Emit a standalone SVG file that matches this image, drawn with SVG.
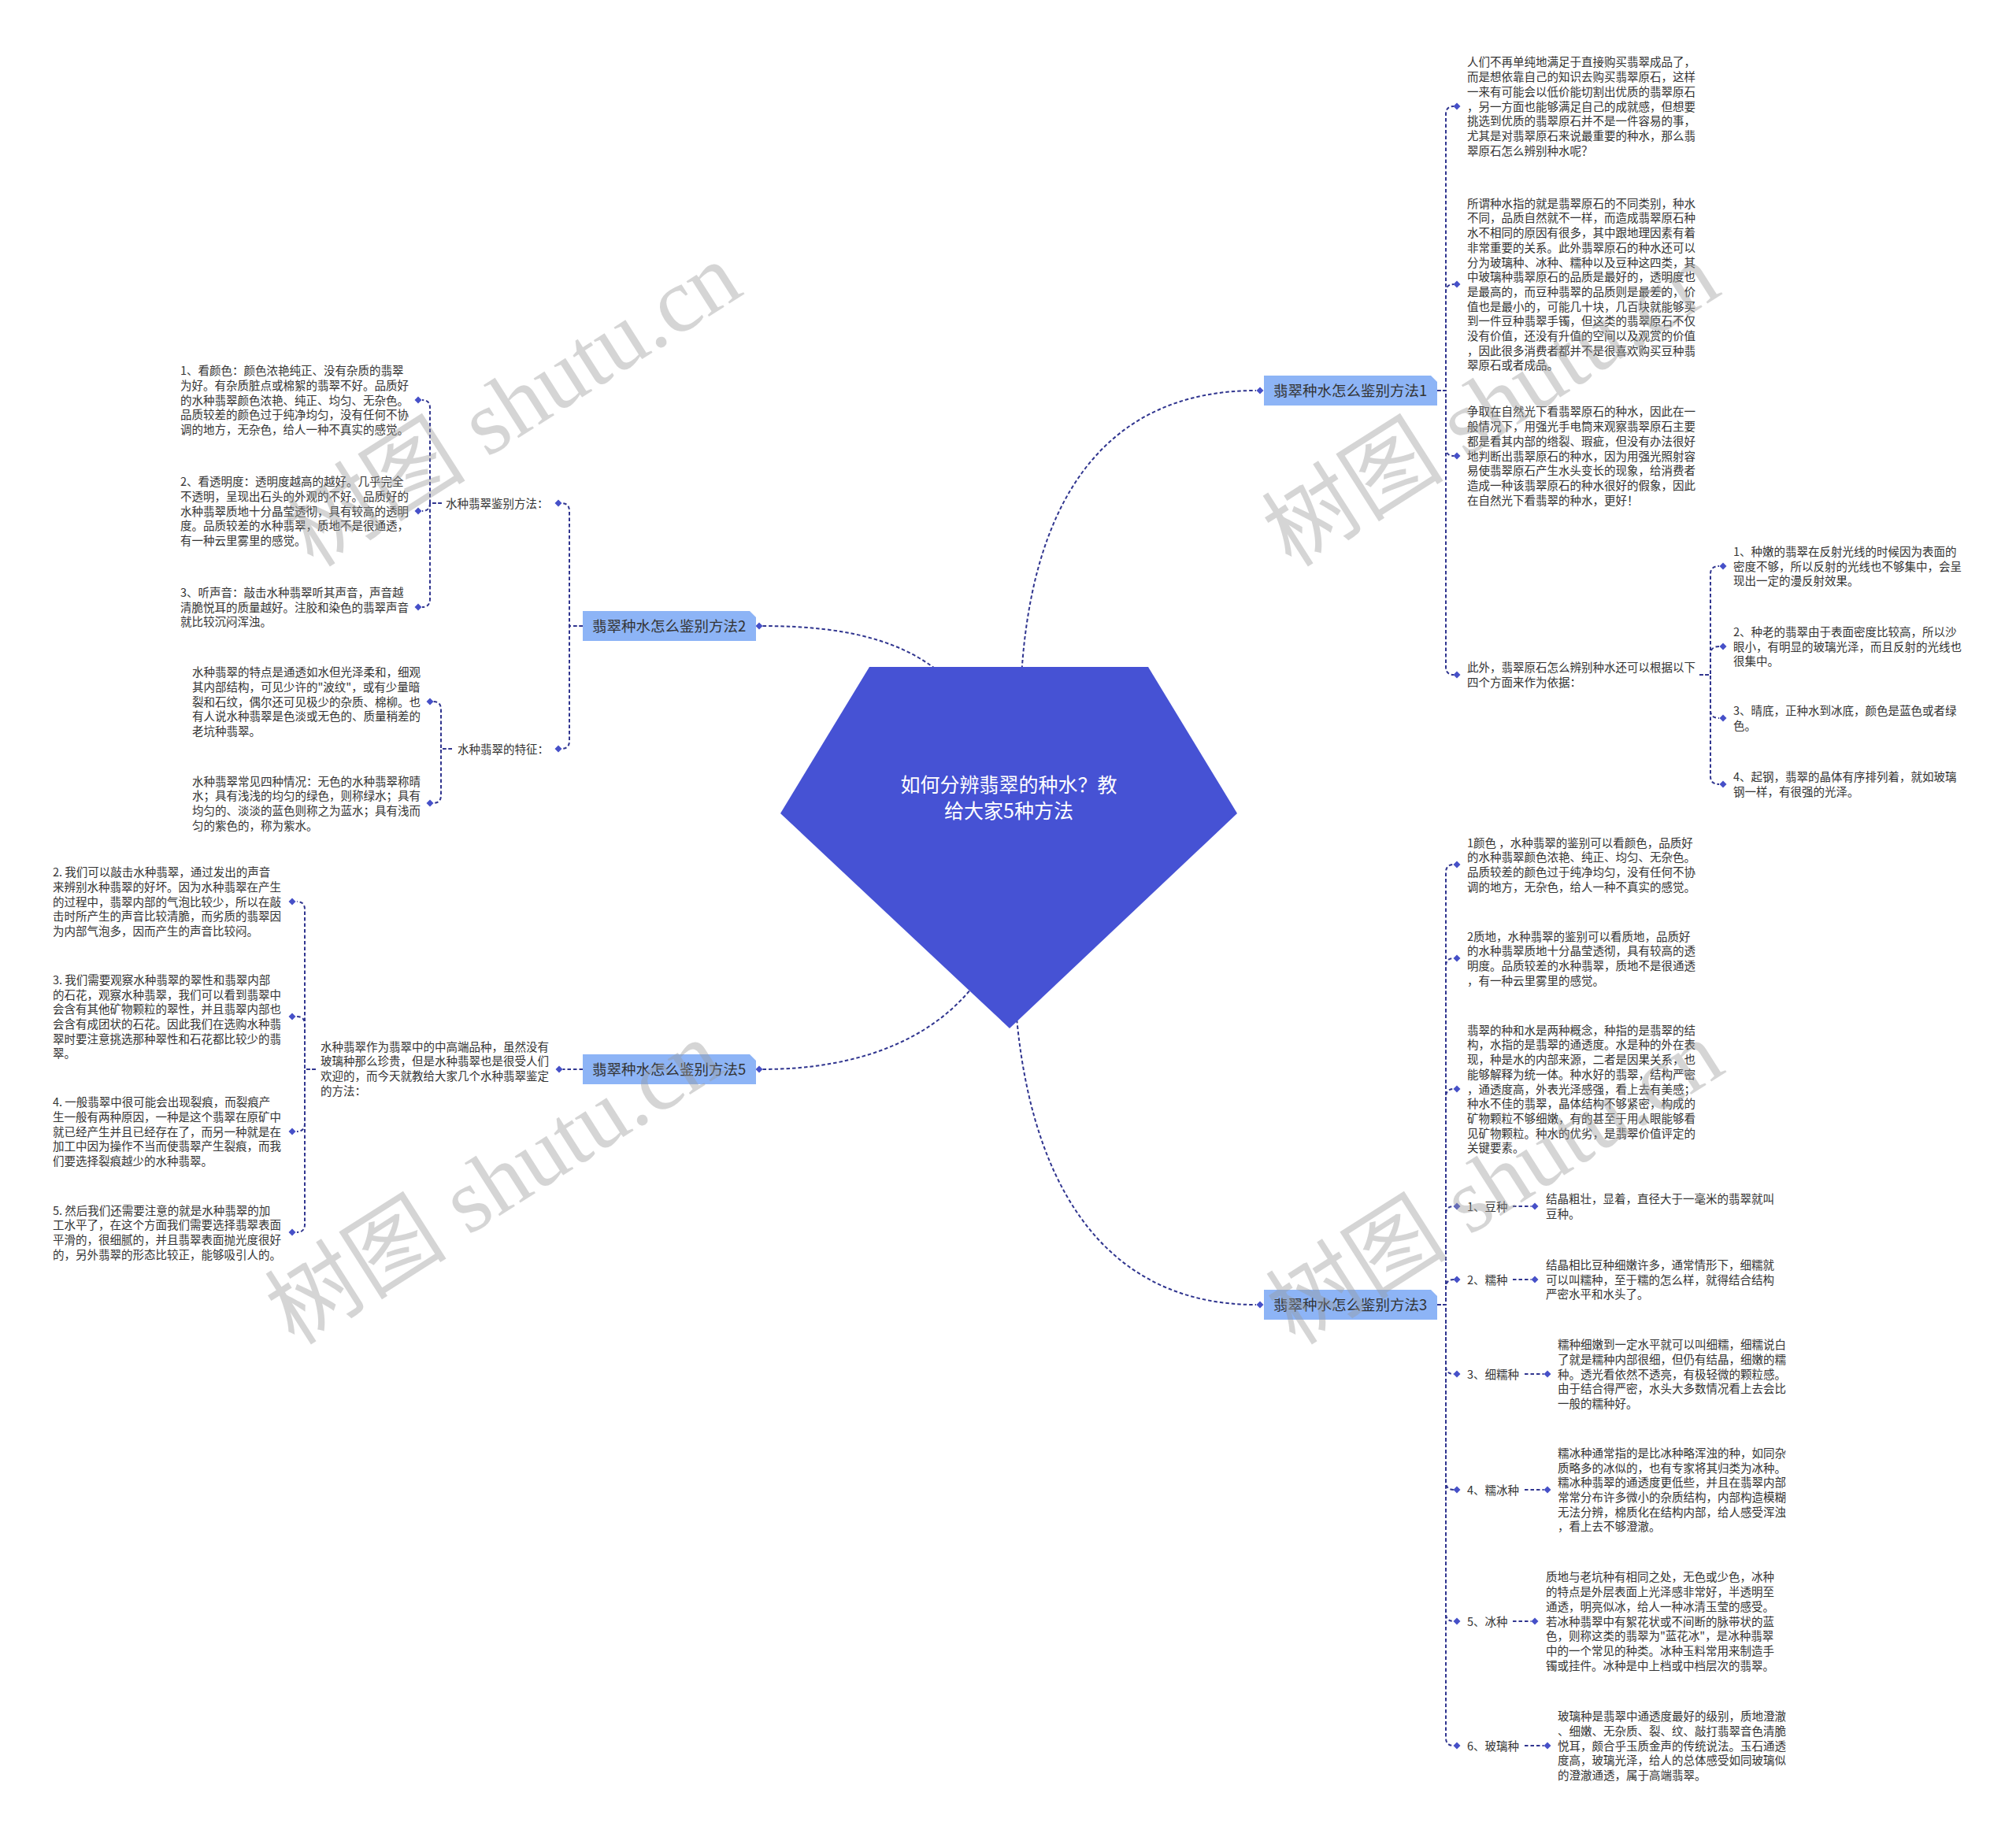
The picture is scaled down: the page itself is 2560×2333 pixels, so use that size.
<svg xmlns="http://www.w3.org/2000/svg" width="2560" height="2333" viewBox="0 0 2560 2333">
<style>
.t{font-family:"Noto Sans CJK SC","Noto Sans",sans-serif;font-size:14.5px;fill:#333}
.m{font-family:"Noto Sans CJK SC","Noto Sans",sans-serif;font-size:18.5px;fill:#333}
.r{font-family:"Noto Sans CJK SC","Noto Sans",sans-serif;font-size:25px;fill:#fff}
.c{fill:none;stroke:#30358f;stroke-width:2;stroke-dasharray:4.5 3}
.box{fill:#8db4f6}
.wm{font-family:"Liberation Serif","Noto Sans CJK SC",serif;font-size:116px;fill:#999;opacity:.4}
</style>
<defs><path id="dm" d="M0,-4.5L4.5,0L0,4.5L-4.5,0Z" fill="#4650c8"/></defs>
<rect width="2560" height="2333" fill="#fff"/>
<g id="connectors">
<path class="c" d="M1296,880 C1305,640 1400,496 1595,496"/>
<path class="c" d="M968.5,795 C1080,795 1165,815 1220,880"/>
<path class="c" d="M968.5,1358 C1090,1358 1190,1320 1245,1240"/>
<path class="c" d="M1288,1250 C1300,1500 1400,1657 1595,1657"/>
<path class="c" d="M1825,496 H1836 V145 Q1836,135 1846,135"/>
<path class="c" d="M1825,496 H1836 V371 Q1836,361 1846,361"/>
<path class="c" d="M1825,496 H1836 V569 Q1836,579 1846,579"/>
<path class="c" d="M1825,496 H1836 V847 Q1836,857 1846,857"/>
<path class="c" d="M2158,857 H2172 V729 Q2172,719 2183,719"/>
<path class="c" d="M2158,857 H2172 V831 Q2172,821 2183,821"/>
<path class="c" d="M2158,857 H2172 V902 Q2172,912 2183,912"/>
<path class="c" d="M2158,857 H2172 V986 Q2172,996 2183,996"/>
<path class="c" d="M1825,1657 H1836 V1108 Q1836,1098 1846,1098"/>
<path class="c" d="M1825,1657 H1836 V1227 Q1836,1217 1846,1217"/>
<path class="c" d="M1825,1657 H1836 V1393 Q1836,1383 1846,1383"/>
<path class="c" d="M1825,1657 H1836 V1542 Q1836,1532 1846,1532"/>
<path class="c" d="M1825,1657 H1836 V1635 Q1836,1625 1846,1625"/>
<path class="c" d="M1825,1657 H1836 V1735 Q1836,1745 1846,1745"/>
<path class="c" d="M1825,1657 H1836 V1882 Q1836,1892 1846,1892"/>
<path class="c" d="M1825,1657 H1836 V2049 Q1836,2059 1846,2059"/>
<path class="c" d="M1825,1657 H1836 V2207 Q1836,2217 1846,2217"/>
<path class="c" d="M1921,1532 H1944.5"/>
<path class="c" d="M1921,1625 H1944.5"/>
<path class="c" d="M1936,1745 H1960.5"/>
<path class="c" d="M1936,1892 H1960.5"/>
<path class="c" d="M1921,2059 H1944.5"/>
<path class="c" d="M1936,2217 H1960.5"/>
<path class="c" d="M740,795 H723 V649 Q723,639 713,639"/>
<path class="c" d="M740,795 H723 V941 Q723,951 713,951"/>
<path class="c" d="M561,639 H546 V518 Q546,508 536,508"/>
<path class="c" d="M561,639 H546 Q546,649 536,649"/>
<path class="c" d="M561,639 H546 V761 Q546,771 536,771"/>
<path class="c" d="M574,951 H560 V901 Q560,891 550,891"/>
<path class="c" d="M574,951 H560 V1010 Q560,1020 550,1020"/>
<path class="c" d="M740,1358 H714.5"/>
<path class="c" d="M401,1358 H387 V1155 Q387,1145 377,1145"/>
<path class="c" d="M401,1358 H387 V1301 Q387,1291 377,1291"/>
<path class="c" d="M401,1358 H387 V1427 Q387,1437 377,1437"/>
<path class="c" d="M401,1358 H387 V1555 Q387,1565 377,1565"/>
<use href="#dm" x="1600" y="496"/><use href="#dm" x="964" y="795"/><use href="#dm" x="964" y="1358"/><use href="#dm" x="1600" y="1657"/>
<use href="#dm" x="1850" y="135"/><use href="#dm" x="1850" y="361"/><use href="#dm" x="1850" y="579"/><use href="#dm" x="1850" y="857"/>
<use href="#dm" x="2188" y="719"/><use href="#dm" x="2188" y="821"/><use href="#dm" x="2188" y="912"/><use href="#dm" x="2188" y="996"/>
<use href="#dm" x="1850" y="1098"/><use href="#dm" x="1850" y="1217"/><use href="#dm" x="1850" y="1383"/><use href="#dm" x="1850" y="1532"/><use href="#dm" x="1850" y="1625"/><use href="#dm" x="1850" y="1745"/><use href="#dm" x="1850" y="1892"/><use href="#dm" x="1850" y="2059"/><use href="#dm" x="1850" y="2217"/>
<use href="#dm" x="1949" y="1532"/><use href="#dm" x="1949" y="1625"/><use href="#dm" x="1965" y="1745"/><use href="#dm" x="1965" y="1892"/><use href="#dm" x="1949" y="2059"/><use href="#dm" x="1965" y="2217"/>
<use href="#dm" x="709" y="639"/><use href="#dm" x="709" y="951"/>
<use href="#dm" x="531" y="508"/><use href="#dm" x="531" y="649"/><use href="#dm" x="531" y="771"/>
<use href="#dm" x="546" y="891"/><use href="#dm" x="546" y="1020"/>
<use href="#dm" x="710" y="1358"/>
<use href="#dm" x="371" y="1145"/><use href="#dm" x="371" y="1291"/><use href="#dm" x="371" y="1437"/><use href="#dm" x="371" y="1565"/>
</g>
<g id="root">
<polygon points="1104,847 1458,847 1571,1033 1282,1306 991,1033" fill="#4652d4"/>
<text class="r" text-anchor="middle"><tspan x="1281" y="1006">如何分辨翡翠的种水？教</tspan><tspan x="1281" y="1039">给大家5种方法</tspan></text>
</g>
<g id="method1">
<path class="box" d="M1605,477 H1817 L1825,485 V515 H1605 Z"/>
<text class="m" x="1617" y="503">翡翠种水怎么鉴别方法1</text>
</g>
<g id="method2">
<path class="box" d="M740,776 H952 L960,784 V814 H740 Z"/>
<text class="m" x="752" y="802">翡翠种水怎么鉴别方法2</text>
</g>
<g id="method5">
<path class="box" d="M740,1339 H952 L960,1347 V1377 H740 Z"/>
<text class="m" x="752" y="1365">翡翠种水怎么鉴别方法5</text>
</g>
<g id="method3">
<path class="box" d="M1605,1638 H1817 L1825,1646 V1676 H1605 Z"/>
<text class="m" x="1617" y="1664">翡翠种水怎么鉴别方法3</text>
</g>
<g id="m1-a"><text class="t" y="84.4"><tspan x="1863">人们不再单纯地满足于直接购买翡翠成品了，</tspan><tspan x="1863" dy="18.7">而是想依靠自己的知识去购买翡翠原石，这样</tspan><tspan x="1863" dy="18.7">一来有可能会以低价能切割出优质的翡翠原石</tspan><tspan x="1863" dy="18.7">，另一方面也能够满足自己的成就感，但想要</tspan><tspan x="1863" dy="18.7">挑选到优质的翡翠原石并不是一件容易的事，</tspan><tspan x="1863" dy="18.7">尤其是对翡翠原石来说最重要的种水，那么翡</tspan><tspan x="1863" dy="18.7">翠原石怎么辨别种水呢？</tspan></text></g>
<g id="m1-b"><text class="t" y="263.7"><tspan x="1863">所谓种水指的就是翡翠原石的不同类别，种水</tspan><tspan x="1863" dy="18.7">不同，品质自然就不一样，而造成翡翠原石种</tspan><tspan x="1863" dy="18.7">水不相同的原因有很多，其中跟地理因素有着</tspan><tspan x="1863" dy="18.7">非常重要的关系。此外翡翠原石的种水还可以</tspan><tspan x="1863" dy="18.7">分为玻璃种、冰种、糯种以及豆种这四类，其</tspan><tspan x="1863" dy="18.7">中玻璃种翡翠原石的品质是最好的，透明度也</tspan><tspan x="1863" dy="18.7">是最高的，而豆种翡翠的品质则是最差的，价</tspan><tspan x="1863" dy="18.7">值也是最小的，可能几十块，几百块就能够买</tspan><tspan x="1863" dy="18.7">到一件豆种翡翠手镯，但这类的翡翠原石不仅</tspan><tspan x="1863" dy="18.7">没有价值，还没有升值的空间以及观赏的价值</tspan><tspan x="1863" dy="18.7">，因此很多消费者都并不是很喜欢购买豆种翡</tspan><tspan x="1863" dy="18.7">翠原石或者成品。</tspan></text></g>
<g id="m1-c"><text class="t" y="528.4"><tspan x="1863">争取在自然光下看翡翠原石的种水，因此在一</tspan><tspan x="1863" dy="18.7">般情况下，用强光手电筒来观察翡翠原石主要</tspan><tspan x="1863" dy="18.7">都是看其内部的绺裂、瑕疵，但没有办法很好</tspan><tspan x="1863" dy="18.7">地判断出翡翠原石的种水，因为用强光照射容</tspan><tspan x="1863" dy="18.7">易使翡翠原石产生水头变长的现象，给消费者</tspan><tspan x="1863" dy="18.7">造成一种该翡翠原石的种水很好的假象，因此</tspan><tspan x="1863" dy="18.7">在自然光下看翡翠的种水，更好！</tspan></text></g>
<g id="m1-d"><text class="t" y="853.2"><tspan x="1863">此外，翡翠原石怎么辨别种水还可以根据以下</tspan><tspan x="1863" dy="18.7">四个方面来作为依据：</tspan></text></g>
<g id="m1-d1"><text class="t" y="705.8"><tspan x="2201">1、种嫩的翡翠在反射光线的时候因为表面的</tspan><tspan x="2201" dy="18.7">密度不够，所以反射的光线也不够集中，会呈</tspan><tspan x="2201" dy="18.7">现出一定的漫反射效果。</tspan></text></g>
<g id="m1-d2"><text class="t" y="807.8"><tspan x="2201">2、种老的翡翠由于表面密度比较高，所以沙</tspan><tspan x="2201" dy="18.7">眼小，有明显的玻璃光泽，而且反射的光线也</tspan><tspan x="2201" dy="18.7">很集中。</tspan></text></g>
<g id="m1-d3"><text class="t" y="908.2"><tspan x="2201">3、晴底，正种水到冰底，颜色是蓝色或者绿</tspan><tspan x="2201" dy="18.7">色。</tspan></text></g>
<g id="m1-d4"><text class="t" y="992.2"><tspan x="2201">4、起钢，翡翠的晶体有序排列着，就如玻璃</tspan><tspan x="2201" dy="18.7">钢一样，有很强的光泽。</tspan></text></g>
<g id="m3-a"><text class="t" y="1075.5"><tspan x="1863">1颜色 ，水种翡翠的鉴别可以看颜色，品质好</tspan><tspan x="1863" dy="18.7">的水种翡翠颜色浓艳、纯正、均匀、无杂色。</tspan><tspan x="1863" dy="18.7">品质较差的颜色过于纯净均匀，没有任何不协</tspan><tspan x="1863" dy="18.7">调的地方，无杂色，给人一种不真实的感觉。</tspan></text></g>
<g id="m3-b"><text class="t" y="1194.5"><tspan x="1863">2质地，水种翡翠的鉴别可以看质地，品质好</tspan><tspan x="1863" dy="18.7">的水种翡翠质地十分晶莹透彻，具有较高的透</tspan><tspan x="1863" dy="18.7">明度。品质较差的水种翡翠，质地不是很通透</tspan><tspan x="1863" dy="18.7">，有一种云里雾里的感觉。</tspan></text></g>
<g id="m3-c"><text class="t" y="1313.7"><tspan x="1863">翡翠的种和水是两种概念，种指的是翡翠的结</tspan><tspan x="1863" dy="18.7">构，水指的是翡翠的通透度。水是种的外在表</tspan><tspan x="1863" dy="18.7">现，种是水的内部来源，二者是因果关系，也</tspan><tspan x="1863" dy="18.7">能够解释为统一体。种水好的翡翠，结构严密</tspan><tspan x="1863" dy="18.7">，通透度高，外表光泽感强，看上去有美感；</tspan><tspan x="1863" dy="18.7">种水不佳的翡翠，晶体结构不够紧密，构成的</tspan><tspan x="1863" dy="18.7">矿物颗粒不够细嫩，有的甚至于用人眼能够看</tspan><tspan x="1863" dy="18.7">见矿物颗粒。种水的优劣，是翡翠价值评定的</tspan><tspan x="1863" dy="18.7">关键要素。</tspan></text></g>
<g id="m3-l1"><text class="t" x="1863" y="1537.5">1、豆种</text></g>
<g id="m3-l2"><text class="t" x="1863" y="1630.5">2、糯种</text></g>
<g id="m3-l3"><text class="t" x="1863" y="1750.5">3、细糯种</text></g>
<g id="m3-l4"><text class="t" x="1863" y="1897.5">4、糯冰种</text></g>
<g id="m3-l5"><text class="t" x="1863" y="2064.5">5、冰种</text></g>
<g id="m3-l6"><text class="t" x="1863" y="2222.5">6、玻璃种</text></g>
<g id="m3-d1"><text class="t" y="1528.2"><tspan x="1963">结晶粗壮，显着，直径大于一毫米的翡翠就叫</tspan><tspan x="1963" dy="18.7">豆种。</tspan></text></g>
<g id="m3-d2"><text class="t" y="1611.8"><tspan x="1963">结晶相比豆种细嫩许多，通常情形下，细糯就</tspan><tspan x="1963" dy="18.7">可以叫糯种，至于糯的怎么样，就得结合结构</tspan><tspan x="1963" dy="18.7">严密水平和水头了。</tspan></text></g>
<g id="m3-d3"><text class="t" y="1713.1"><tspan x="1978">糯种细嫩到一定水平就可以叫细糯，细糯说白</tspan><tspan x="1978" dy="18.7">了就是糯种内部很细，但仍有结晶，细嫩的糯</tspan><tspan x="1978" dy="18.7">种。透光看依然不透亮，有极轻微的颗粒感。</tspan><tspan x="1978" dy="18.7">由于结合得严密，水头大多数情况看上去会比</tspan><tspan x="1978" dy="18.7">一般的糯种好。</tspan></text></g>
<g id="m3-d4"><text class="t" y="1850.8"><tspan x="1978">糯冰种通常指的是比冰种略浑浊的种，如同杂</tspan><tspan x="1978" dy="18.7">质略多的冰似的，也有专家将其归类为冰种。</tspan><tspan x="1978" dy="18.7">糯冰种翡翠的通透度更低些，并且在翡翠内部</tspan><tspan x="1978" dy="18.7">常常分布许多微小的杂质结构，内部构造模糊</tspan><tspan x="1978" dy="18.7">无法分辨，棉质化在结构内部，给人感受浑浊</tspan><tspan x="1978" dy="18.7">，看上去不够澄澈。</tspan></text></g>
<g id="m3-d5"><text class="t" y="2008.4"><tspan x="1963">质地与老坑种有相同之处，无色或少色，冰种</tspan><tspan x="1963" dy="18.7">的特点是外层表面上光泽感非常好，半透明至</tspan><tspan x="1963" dy="18.7">通透，明亮似冰，给人一种冰清玉莹的感受。</tspan><tspan x="1963" dy="18.7">若冰种翡翠中有絮花状或不间断的脉带状的蓝</tspan><tspan x="1963" dy="18.7">色，则称这类的翡翠为"蓝花冰"，是冰种翡翠</tspan><tspan x="1963" dy="18.7">中的一个常见的种类。冰种玉料常用来制造手</tspan><tspan x="1963" dy="18.7">镯或挂件。冰种是中上档或中档层次的翡翠。</tspan></text></g>
<g id="m3-d6"><text class="t" y="2185.1"><tspan x="1978">玻璃种是翡翠中通透度最好的级别，质地澄澈</tspan><tspan x="1978" dy="18.7">、细嫩、无杂质、裂、纹、敲打翡翠音色清脆</tspan><tspan x="1978" dy="18.7">悦耳，颇合乎玉质金声的传统说法。玉石通透</tspan><tspan x="1978" dy="18.7">度高，玻璃光泽，给人的总体感受如同玻璃似</tspan><tspan x="1978" dy="18.7">的澄澈通透，属于高端翡翠。</tspan></text></g>
<g id="m2-a"><text class="t" x="566" y="644.5">水种翡翠鉴别方法：</text></g>
<g id="m2-b"><text class="t" x="581" y="956.5">水种翡翠的特征：</text></g>
<g id="m2-a1"><text class="t" y="476.1"><tspan x="229">1、看颜色：颜色浓艳纯正、没有杂质的翡翠</tspan><tspan x="229" dy="18.7">为好。有杂质脏点或棉絮的翡翠不好。品质好</tspan><tspan x="229" dy="18.7">的水种翡翠颜色浓艳、纯正、均匀、无杂色。</tspan><tspan x="229" dy="18.7">品质较差的颜色过于纯净均匀，没有任何不协</tspan><tspan x="229" dy="18.7">调的地方，无杂色，给人一种不真实的感觉。</tspan></text></g>
<g id="m2-a2"><text class="t" y="617.1"><tspan x="229">2、看透明度：透明度越高的越好。几乎完全</tspan><tspan x="229" dy="18.7">不透明，呈现出石头的外观的不好。品质好的</tspan><tspan x="229" dy="18.7">水种翡翠质地十分晶莹透彻，具有较高的透明</tspan><tspan x="229" dy="18.7">度。品质较差的水种翡翠，质地不是很通透，</tspan><tspan x="229" dy="18.7">有一种云里雾里的感觉。</tspan></text></g>
<g id="m2-a3"><text class="t" y="757.8"><tspan x="229">3、听声音：敲击水种翡翠听其声音，声音越</tspan><tspan x="229" dy="18.7">清脆悦耳的质量越好。注胶和染色的翡翠声音</tspan><tspan x="229" dy="18.7">就比较沉闷浑浊。</tspan></text></g>
<g id="m2-b1"><text class="t" y="859.1"><tspan x="244">水种翡翠的特点是通透如水但光泽柔和，细观</tspan><tspan x="244" dy="18.7">其内部结构，可见少许的"波纹"，或有少量暗</tspan><tspan x="244" dy="18.7">裂和石纹，偶尔还可见极少的杂质、棉柳。也</tspan><tspan x="244" dy="18.7">有人说水种翡翠是色淡或无色的、质量稍差的</tspan><tspan x="244" dy="18.7">老坑种翡翠。</tspan></text></g>
<g id="m2-b2"><text class="t" y="997.5"><tspan x="244">水种翡翠常见四种情况：无色的水种翡翠称晴</tspan><tspan x="244" dy="18.7">水；具有浅浅的均匀的绿色，则称绿水；具有</tspan><tspan x="244" dy="18.7">均匀的、淡淡的蓝色则称之为蓝水；具有浅而</tspan><tspan x="244" dy="18.7">匀的紫色的，称为紫水。</tspan></text></g>
<g id="m5-a"><text class="t" y="1334.5"><tspan x="407">水种翡翠作为翡翠中的中高端品种，虽然没有</tspan><tspan x="407" dy="18.7">玻璃种那么珍贵，但是水种翡翠也是很受人们</tspan><tspan x="407" dy="18.7">欢迎的，而今天就教给大家几个水种翡翠鉴定</tspan><tspan x="407" dy="18.7">的方法：</tspan></text></g>
<g id="m5-a2"><text class="t" y="1113.1"><tspan x="67">2. 我们可以敲击水种翡翠，通过发出的声音</tspan><tspan x="67" dy="18.7">来辨别水种翡翠的好坏。因为水种翡翠在产生</tspan><tspan x="67" dy="18.7">的过程中，翡翠内部的气泡比较少，所以在敲</tspan><tspan x="67" dy="18.7">击时所产生的声音比较清脆，而劣质的翡翠因</tspan><tspan x="67" dy="18.7">为内部气泡多，因而产生的声音比较闷。</tspan></text></g>
<g id="m5-a3"><text class="t" y="1249.8"><tspan x="67">3. 我们需要观察水种翡翠的翠性和翡翠内部</tspan><tspan x="67" dy="18.7">的石花，观察水种翡翠，我们可以看到翡翠中</tspan><tspan x="67" dy="18.7">会含有其他矿物颗粒的翠性，并且翡翠内部也</tspan><tspan x="67" dy="18.7">会含有成团状的石花。因此我们在选购水种翡</tspan><tspan x="67" dy="18.7">翠时要注意挑选那种翠性和石花都比较少的翡</tspan><tspan x="67" dy="18.7">翠。</tspan></text></g>
<g id="m5-a4"><text class="t" y="1405.1"><tspan x="67">4. 一般翡翠中很可能会出现裂痕，而裂痕产</tspan><tspan x="67" dy="18.7">生一般有两种原因，一种是这个翡翠在原矿中</tspan><tspan x="67" dy="18.7">就已经产生并且已经存在了，而另一种就是在</tspan><tspan x="67" dy="18.7">加工中因为操作不当而使翡翠产生裂痕，而我</tspan><tspan x="67" dy="18.7">们要选择裂痕越少的水种翡翠。</tspan></text></g>
<g id="m5-a5"><text class="t" y="1542.5"><tspan x="67">5. 然后我们还需要注意的就是水种翡翠的加</tspan><tspan x="67" dy="18.7">工水平了，在这个方面我们需要选择翡翠表面</tspan><tspan x="67" dy="18.7">平滑的，很细腻的，并且翡翠表面抛光度很好</tspan><tspan x="67" dy="18.7">的，另外翡翠的形态比较正，能够吸引人的。</tspan></text></g>
<g id="watermarks">
<text class="wm" transform="translate(398,722) rotate(-32.5)">树图 shutu.cn</text>
<text class="wm" transform="translate(1640,722) rotate(-32.5)">树图 shutu.cn</text>
<text class="wm" transform="translate(374,1710) rotate(-32.5)">树图 shutu.cn</text>
<text class="wm" transform="translate(1645,1710) rotate(-32.5)">树图 shutu.cn</text>
</g>
</svg>
